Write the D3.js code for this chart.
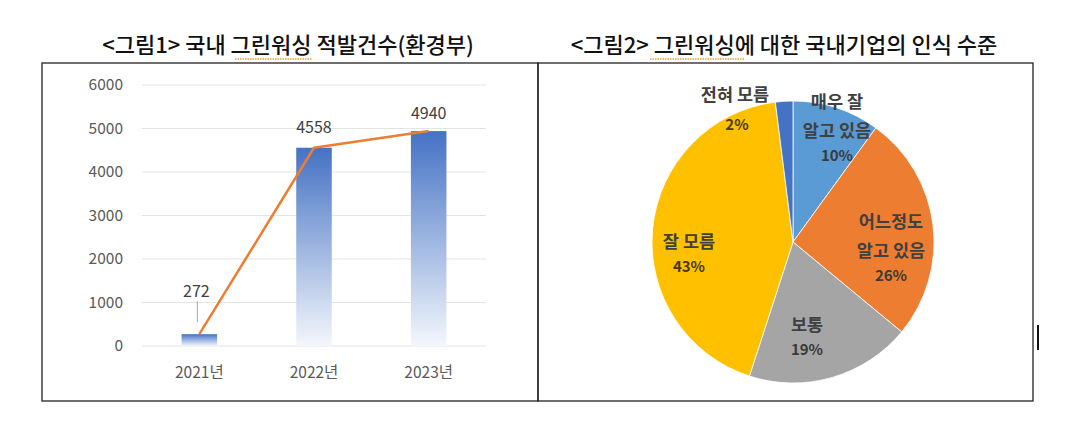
<!DOCTYPE html>
<html><head><meta charset="utf-8">
<script src="https://cdn.jsdelivr.net/npm/d3@7/dist/d3.min.js"></script>
<style>body{margin:0;background:#fff;}svg{display:block;}</style>
</head><body>
<svg id="c" width="1079" height="439"></svg>
<script>
const title1 = "<그림1> 국내 그린워싱 적발건수(환경부)";
const title2 = "<그림2> 그린워싱에 대한 국내기업의 인식 수준";
const years = ["2021년", "2022년", "2023년"];
const counts = [272, 4558, 4940];
const yTicks = [0, 1000, 2000, 3000, 4000, 5000, 6000];
const pieLabels = [["매우 잘", "알고 있음"], ["어느정도", "알고 있음"], ["보통"], ["잘 모름"], ["전혀 모름"]];
const pieValues = [10, 26, 19, 43, 2];
const pieColors = ["#5B9BD5", "#ED7D31", "#A5A5A5", "#FFC000", "#4472C4"];

const svg = d3.select("#c");
const FONT = "'Noto Sans CJK KR', 'Noto Sans', sans-serif";

// frames
svg.append("rect").attr("x", 42).attr("y", 63).attr("width", 496).attr("height", 338)
  .attr("fill", "none").attr("stroke", "#222").attr("stroke-width", 1.3);
svg.append("rect").attr("x", 538).attr("y", 63).attr("width", 495).attr("height", 338)
  .attr("fill", "none").attr("stroke", "#222").attr("stroke-width", 1.3);

// titles
svg.append("text").attr("x", 288).attr("y", 53).attr("text-anchor", "middle")
  .attr("font-family", FONT).attr("font-size", 22).attr("font-weight", 500).attr("fill", "#111")
  .text(title1);
svg.append("text").attr("x", 784).attr("y", 53).attr("text-anchor", "middle")
  .attr("font-family", FONT).attr("font-size", 22).attr("font-weight", 500).attr("fill", "#111")
  .text(title2);
// spell-check squiggles
[[235, 312], [650, 745]].forEach(([a, b]) => {
  svg.append("line").attr("x1", a).attr("x2", b).attr("y1", 59).attr("y2", 59)
    .attr("stroke", "#E8A040").attr("stroke-width", 1.5).attr("stroke-dasharray", "1.5,1");
});

// ---- bar chart ----
const x = d3.scaleBand().domain(years).range([142, 486]).paddingInner(0.69).paddingOuter(0.345);
const y = d3.scaleLinear().domain([0, 6000]).range([346, 85]);

const defs = svg.append("defs");
const grad = defs.append("linearGradient").attr("id", "barGrad").attr("x1", 0).attr("y1", 0).attr("x2", 0).attr("y2", 1);
grad.append("stop").attr("offset", "0%").attr("stop-color", "#4472C4");
grad.append("stop").attr("offset", "100%").attr("stop-color", "#F4F7FC");

const grid = svg.append("g");
yTicks.forEach(t => {
  grid.append("line").attr("x1", 142).attr("x2", 486).attr("y1", y(t)).attr("y2", y(t))
    .attr("stroke", "#E3E3E3").attr("stroke-width", 1);
});

const yAxis = svg.append("g").attr("transform", "translate(142,0)")
  .call(d3.axisLeft(y).tickValues(yTicks).tickSize(0).tickPadding(19).tickFormat(d3.format("d")));
yAxis.select(".domain").remove();
yAxis.selectAll("text").attr("font-family", FONT).attr("font-size", 15.5).attr("fill", "#595959");

const xAxis = svg.append("g").attr("transform", "translate(0,346)")
  .call(d3.axisBottom(x).tickSize(0).tickPadding(21));
xAxis.select(".domain").remove();
xAxis.selectAll("text").attr("font-family", FONT).attr("font-size", 15.5).attr("fill", "#595959");

svg.append("g").selectAll("rect").data(counts).join("rect")
  .attr("x", (d, i) => x(years[i])).attr("width", x.bandwidth())
  .attr("y", d => y(d)).attr("height", d => y(0) - y(d))
  .attr("fill", "url(#barGrad)");

const cx = i => x(years[i]) + x.bandwidth() / 2;
const line = d3.line().x((d, i) => cx(i)).y(d => y(d));
svg.append("path").datum(counts).attr("d", line).attr("fill", "none")
  .attr("stroke", "#ED7D31").attr("stroke-width", 2.5).attr("stroke-linejoin", "round");

// data labels
const labelOffsets = [37, 15, 12];
svg.append("g").selectAll("text").data(counts).join("text")
  .attr("x", (d, i) => cx(i) - (i === 0 ? 3 : 0)).attr("y", (d, i) => y(d) - labelOffsets[i])
  .attr("text-anchor", "middle").attr("font-family", FONT).attr("font-size", 16).attr("fill", "#404040")
  .text(d => d);
// leader line for small value
svg.append("line").attr("x1", cx(0) - 2).attr("x2", cx(0) - 2).attr("y1", y(counts[0]) - 33).attr("y2", y(counts[0]) - 12)
  .attr("stroke", "#A6A6A6").attr("stroke-width", 1);

// ---- pie chart ----
const pcx = 793, pcy = 242, R = 141;
const pie = d3.pie().sort(null).value(d => d)(pieValues);
const arc = d3.arc().innerRadius(0).outerRadius(R);
const pg = svg.append("g").attr("transform", `translate(${pcx},${pcy})`);
pg.selectAll("path").data(pie).join("path").attr("d", arc)
  .attr("fill", (d, i) => pieColors[i]).attr("stroke", "#fff").attr("stroke-width", 0.8);

const labelPos = [[837, 102], [891, 222], [807, 325], [689, 242], [735, 95]];
pieValues.forEach((v, i) => {
  const lines = pieLabels[i];
  const [lx, ly] = labelPos[i];
  const t = svg.append("text").attr("text-anchor", "middle").attr("font-family", FONT)
    .attr("font-size", 17.5).attr("fill", "#404040");
  lines.forEach((s, k) => {
    t.append("tspan").attr("x", lx).attr("y", ly + k * 29 + 6).attr("font-weight", 700).text(s);
  });
  const py = i === 4 ? 125 + 5 : ly + lines.length * 29 + 1;
  t.append("tspan").attr("x", lx + (i === 4 ? 2 : 0)).attr("y", py).attr("font-size", 15)
    .attr("font-weight", 700).attr("fill", i === 4 || i === 3 ? "#4a3a10" : "#3a3a3a").text(v + "%");
});

// text cursor artifact
svg.append("rect").attr("x", 1037).attr("y", 325).attr("width", 2).attr("height", 25).attr("fill", "#111");
</script>
</body></html>
